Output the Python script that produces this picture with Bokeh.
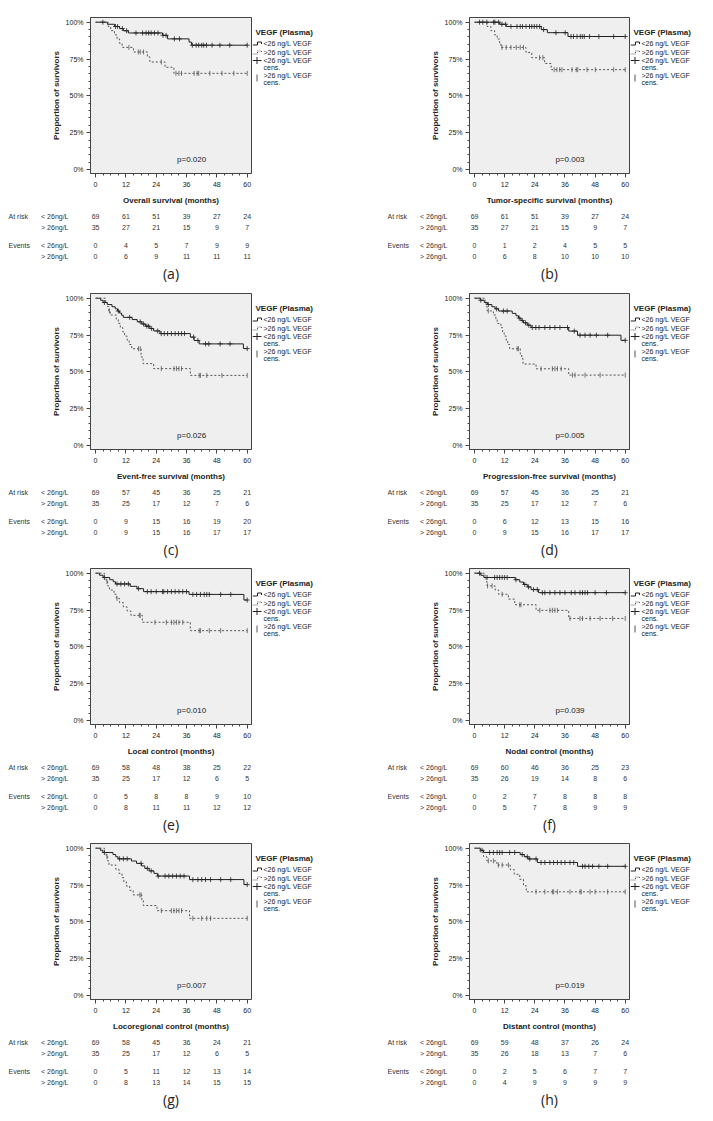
import numpy as np
from bokeh.plotting import figure
from bokeh.models import (Range1d, FixedTicker, NumeralTickFormatter, Label, ColumnDataSource)
from bokeh.layouts import column, row
from bokeh.core.properties import value
from bokeh.embed import file_html
from bokeh.resources import INLINE

MONTHS = [0, 12, 24, 36, 48, 60]
GROUPS = ["< 26ng/L", "> 26ng/L"]
ROW_NAMES = ["At risk", "Events"]
LEGEND_TITLE = "VEGF (Plasma)"
LEGEND_LABELS = ["<26 ng/L VEGF", ">26 ng/L VEGF", "<26 ng/L VEGF", "cens.", ">26 ng/L VEGF", "cens."]

# ---------------- (a) Overall survival ----------------
a_title = "Overall survival (months)"
a_p = "p=0.020"
a_low_t = [4.7, 7.5, 9.5, 11, 13, 26.5, 28.5, 37, 38]
a_low_s = [98.6, 97.1, 95.7, 94.2, 92.7, 91.1, 88.7, 86.5, 84.4]
a_low_c = [2.9, 7.9, 8.7, 10.6, 12.3, 16, 18.6, 20, 21, 22, 23.3, 24.7, 26.7, 27.9, 31.2, 33.2,
           38.3, 39.8, 40.8, 42, 42.8, 43.9, 46.1, 49.2, 53.1, 60]
a_high_t = [5, 6, 7.5, 8.5, 9.5, 10.5, 15, 20.5, 21.5, 27.5, 31]
a_high_s = [97.1, 94.3, 91.4, 88.6, 85.7, 82.9, 79.8, 76.4, 73.0, 69.4, 65.3]
a_high_c = [13.2, 16.9, 17.7, 19, 26, 31.8, 33, 34, 39, 40.2, 40.8, 45.2, 50, 54.7, 60]
a_risk_low = [69, 61, 51, 39, 27, 24]
a_risk_high = [35, 27, 21, 15, 9, 7]
a_ev_low = [0, 4, 5, 7, 9, 9]
a_ev_high = [0, 6, 9, 11, 11, 11]

# ---------------- (b) Tumor-specific survival ----------------
b_title = "Tumor-specific survival (months)"
b_p = "p=0.003"
b_low_t = [10, 12.6, 26.6, 29, 37.2]
b_low_s = [98.6, 97.1, 95.0, 92.9, 90.3]
b_low_c = [2, 3.3, 4.9, 7.6, 8.1, 9.6, 10.9, 12.4, 14.5, 16.9, 18.2, 19.1, 20.5, 21.9, 22.8, 23.8,
           24.8, 25.9, 27.5, 32.4, 36.1, 38.4, 39.4, 40.8, 42.1, 42.9, 43.7, 45.8, 49.5, 55.4, 60]
b_high_t = [5, 6.5, 8, 9, 10, 10.5, 20.5, 22.8, 27.9, 30.5]
b_high_s = [97.1, 94.3, 91.4, 88.6, 85.7, 82.9, 79.4, 75.9, 72.0, 67.8]
b_high_c = [10.9, 12.6, 14.5, 16.6, 18.2, 19.5, 25.9, 27.2, 31.7, 32.8, 33.9, 34.8, 38.8, 40.5,
            41.1, 44.8, 48.1, 55.4, 60]
b_risk_low = [69, 61, 51, 39, 27, 24]
b_risk_high = [35, 27, 21, 15, 9, 7]
b_ev_low = [0, 1, 2, 4, 5, 5]
b_ev_high = [0, 6, 8, 10, 10, 10]

# ---------------- (c) Event-free survival ----------------
c_title = "Event-free survival (months)"
c_p = "p=0.026"
c_low_t = [2, 3, 4.7, 6.5, 7.8, 8.7, 9.5, 10.3, 11, 14.5, 16.5, 18.3, 19.7, 21.5, 23, 25.5,
           37.5, 39, 41, 58.5]
c_low_s = [98.6, 97.1, 95.7, 94.2, 92.8, 91.3, 89.9, 88.4, 87.0, 85.5, 84.0, 82.5, 81.0, 79.4,
           77.8, 76.0, 73.6, 71.3, 69.0, 65.8]
c_low_c = [3.5, 9, 13.5, 17.7, 19, 20.3, 21, 22.2, 24.6, 26, 27.2, 28.5, 30, 31.5, 32.8, 34, 35.2,
           38.8, 40.5, 43.5, 44.8, 49.3, 53.2, 60]
c_high_t = [4, 4.6, 5.2, 5.8, 8.2, 9, 9.8, 10.8, 11.5, 12.5, 13.3, 14.3, 18, 18.8, 23, 37.5]
c_high_s = [97.1, 94.3, 91.4, 88.6, 85.7, 82.9, 80.0, 77.1, 74.3, 71.4, 68.6, 65.7, 60.1, 55.6,
            52.2, 47.6]
c_high_c = [5.5, 17, 17.7, 26, 31, 32, 33, 34, 41, 41.5, 44, 50, 60]
c_risk_low = [69, 57, 45, 36, 25, 21]
c_risk_high = [35, 25, 17, 12, 7, 6]
c_ev_low = [0, 9, 15, 16, 19, 20]
c_ev_high = [0, 9, 15, 16, 17, 17]

# ---------------- (d) Progression-free survival ----------------
d_title = "Progression-free survival (months)"
d_p = "p=0.005"
d_low_t = [2.3, 3.9, 5.2, 6.9, 8.2, 9.6, 15, 16.5, 17.5, 18.5, 19.5, 21, 22.5, 37.5, 41, 58.3]
d_low_s = [98.6, 97.1, 95.7, 94.2, 92.8, 91.3, 89.7, 88.1, 86.5, 84.9, 83.3, 81.7, 80.1, 77.7,
           74.9, 71.4]
d_low_c = [2.5, 5.5, 8.8, 11.5, 13, 17.8, 19, 20.3, 21.6, 23, 24.4, 25.7, 28, 30, 32, 34, 37,
           39.7, 42, 44, 46, 48.5, 53, 60]
d_high_t = [4.2, 4.6, 5, 7.5, 8.5, 9, 10.5, 11.2, 11.8, 12.6, 13.2, 14, 18.2, 18.8, 19.3, 24.5, 37.5]
d_high_s = [97.1, 94.3, 91.4, 88.6, 85.7, 82.9, 80.0, 77.1, 74.3, 71.4, 68.6, 65.7, 62.0, 59.0,
            55.3, 52.1, 47.8]
d_high_c = [5.5, 17, 17.5, 26.5, 31, 32, 33, 34.5, 39, 40, 44, 50, 60]
d_risk_low = [69, 57, 45, 36, 25, 21]
d_risk_high = [35, 25, 17, 12, 7, 6]
d_ev_low = [0, 6, 12, 13, 15, 16]
d_ev_high = [0, 9, 15, 16, 17, 17]

# ---------------- (e) Local control ----------------
e_title = "Local control (months)"
e_p = "p=0.010"
e_low_t = [1.6, 3, 5.6, 7, 7.9, 13.7, 16.4, 19, 37, 58.7]
e_low_s = [98.6, 97.1, 95.6, 94.2, 92.7, 91.1, 89.5, 87.5, 85.6, 81.8]
e_low_c = [3.5, 8.5, 10, 11.5, 13, 17, 20.5, 22, 24, 26.5, 27, 28.5, 30, 31.5, 33, 34.5, 36,
           38.5, 40, 41.5, 43, 44, 45, 49.5, 53.5, 60]
e_high_t = [3.5, 4.2, 4.8, 5.5, 7.3, 8.2, 9.5, 11, 12.5, 14, 18.5, 37.5]
e_high_s = [97.1, 94.3, 91.4, 88.6, 85.7, 82.9, 80.0, 77.1, 74.3, 71.4, 66.7, 61.0]
e_high_c = [4.5, 8.5, 17.3, 17.7, 23.5, 28, 30, 31, 32, 33, 34.5, 41, 41.5, 45, 49.5, 60]
e_risk_low = [69, 58, 48, 38, 25, 22]
e_risk_high = [35, 25, 17, 12, 6, 5]
e_ev_low = [0, 5, 8, 8, 9, 10]
e_ev_high = [0, 8, 11, 11, 12, 12]

# ---------------- (f) Nodal control ----------------
f_title = "Nodal control (months)"
f_p = "p=0.039"
f_low_t = [2.5, 3.7, 16.2, 18, 19.5, 21, 22.5, 25.5]
f_low_s = [98.6, 97.1, 95.6, 94.0, 92.4, 90.7, 88.9, 86.8]
f_low_c = [2, 5, 8, 9, 10, 11, 12, 13, 16.5, 20, 21.5, 23.5, 25, 27, 28, 30, 32, 34, 36, 38.5,
           40, 42, 43, 44, 45, 48, 52.5, 60]
f_high_t = [4.2, 4.6, 5, 8.2, 9.6, 13.5, 16, 24.5, 37.5]
f_high_s = [97.1, 94.3, 91.4, 88.6, 85.7, 82.4, 78.6, 74.8, 69.3]
f_high_c = [5.2, 7, 11, 18, 18.5, 26, 30, 31, 32, 33, 38, 42, 43, 46, 50, 55, 60]
f_risk_low = [69, 60, 46, 36, 25, 23]
f_risk_high = [35, 26, 19, 14, 8, 6]
f_ev_low = [0, 2, 7, 8, 8, 8]
f_ev_high = [0, 5, 7, 8, 9, 9]

# ---------------- (g) Locoregional control ----------------
g_title = "Locoregional control (months)"
g_p = "p=0.007"
g_low_t = [1.9, 2.9, 6.9, 8, 8.9, 14.2, 16.2, 18.2, 19.5, 21.2, 23.1, 24.5, 37.2, 58.7]
g_low_s = [98.6, 97.1, 95.7, 94.2, 92.8, 91.3, 89.7, 88.0, 86.3, 84.6, 82.9, 81.1, 78.7, 75.3]
g_low_c = [3.5, 9.5, 11, 12.5, 18, 20.5, 22, 24.8, 27.5, 29, 30.5, 32, 33.5, 35, 38.5, 40.5, 42,
           43.5, 45.5, 49.5, 53.5, 60]
g_high_t = [3.5, 4.2, 4.8, 5.3, 8, 9.3, 10.5, 11.2, 12.2, 13.5, 14.9, 18.3, 18.9, 24.3, 37.2]
g_high_s = [97.1, 94.3, 91.4, 88.6, 85.7, 82.9, 80.0, 77.1, 74.3, 71.4, 68.3, 64.7, 61.1, 57.6,
            52.4]
g_high_c = [4.5, 17.5, 18, 26, 30, 31, 32, 33, 34, 38.5, 42, 44, 45.5, 60]
g_risk_low = [69, 58, 45, 36, 24, 21]
g_risk_high = [35, 25, 17, 12, 6, 5]
g_ev_low = [0, 5, 11, 12, 13, 14]
g_ev_high = [0, 8, 13, 14, 15, 15]

# ---------------- (h) Distant control ----------------
h_title = "Distant control (months)"
h_p = "p=0.019"
h_low_t = [2.3, 3.6, 18.2, 19.8, 21.3, 25, 41]
h_low_s = [98.6, 97.1, 95.7, 94.2, 92.7, 90.3, 87.7]
h_low_c = [3, 6, 7.5, 9, 10, 11, 14, 16, 19, 21, 22, 24.5, 26.5, 28, 30, 31.5, 33, 34.5, 36, 38,
           39.5, 43, 44, 45.5, 47, 49.5, 53, 60]
h_high_t = [2.3, 3.6, 4.9, 8.9, 14.2, 15.8, 18, 19.5, 20.6]
h_high_s = [97.1, 94.3, 91.4, 88.6, 85.5, 82.3, 78.9, 74.6, 70.4]
h_high_c = [5.5, 7.5, 9.5, 11, 13.5, 24.5, 28, 31, 31.5, 33, 38, 42, 42.5, 46, 48, 53, 60]
h_risk_low = [69, 59, 48, 37, 26, 24]
h_risk_high = [35, 26, 18, 13, 7, 6]
h_ev_low = [0, 2, 5, 6, 7, 7]
h_ev_high = [0, 4, 9, 9, 9, 9]

PANELS = [
    ("(a)", a_title, a_p, a_low_t, a_low_s, a_low_c, a_high_t, a_high_s, a_high_c, a_risk_low, a_risk_high, a_ev_low, a_ev_high),
    ("(b)", b_title, b_p, b_low_t, b_low_s, b_low_c, b_high_t, b_high_s, b_high_c, b_risk_low, b_risk_high, b_ev_low, b_ev_high),
    ("(c)", c_title, c_p, c_low_t, c_low_s, c_low_c, c_high_t, c_high_s, c_high_c, c_risk_low, c_risk_high, c_ev_low, c_ev_high),
    ("(d)", d_title, d_p, d_low_t, d_low_s, d_low_c, d_high_t, d_high_s, d_high_c, d_risk_low, d_risk_high, d_ev_low, d_ev_high),
    ("(e)", e_title, e_p, e_low_t, e_low_s, e_low_c, e_high_t, e_high_s, e_high_c, e_risk_low, e_risk_high, e_ev_low, e_ev_high),
    ("(f)", f_title, f_p, f_low_t, f_low_s, f_low_c, f_high_t, f_high_s, f_high_c, f_risk_low, f_risk_high, f_ev_low, f_ev_high),
    ("(g)", g_title, g_p, g_low_t, g_low_s, g_low_c, g_high_t, g_high_s, g_high_c, g_risk_low, g_risk_high, g_ev_low, g_ev_high),
    ("(h)", h_title, h_p, h_low_t, h_low_s, h_low_c, h_high_t, h_high_s, h_high_c, h_risk_low, h_risk_high, h_ev_low, h_ev_high),
]

# ---------------- layout / style ----------------
FONT = "Liberation Sans"
TXT = "#222222"
SOLID = "#222222"
DOTTED = "#555555"
X0, X1 = -2.0, 61.7
Y0, Y1 = -0.027, 1.032
FH = 156
FW = [161, 160]
PANEL_W = [387, 318]
MB_LEFT = [90, 82]
MB_TOP = [17, 9, 9, 9]
MB_BOT = 36
ROW_H = [284, 275, 275, 275]


def step_xy(times, surv):
    x = [0.0] + list(times) + [60.0]
    y = [1.0] + [s / 100 for s in surv] + [surv[-1] / 100]
    return x, y


def surv_at(times, surv, cens):
    idx = np.searchsorted(np.array(times), np.array(cens), side="right")
    vals = [1.0] + [s / 100 for s in surv]
    return [vals[i] for i in idx]


def blank_figure(w, h, xr, yr):
    f = figure(width=w, height=h, frame_width=w, frame_height=h, min_border=0,
               x_range=xr, y_range=yr, x_axis_type=None, y_axis_type=None,
               output_backend="svg", toolbar_location=None,
               background_fill_color="white", border_fill_color="white",
               outline_line_color=None)
    f.xgrid.visible = False
    f.ygrid.visible = False
    return f


def km_figure(col, row_i, spec):
    (letter, title, pval, lt, ls, lc, ht, hs, hc, rl, rh, el, eh) = spec
    fw = FW[col]
    p = figure(width=MB_LEFT[col] + fw + 1, height=MB_TOP[row_i] + FH + MB_BOT,
               frame_width=fw, frame_height=FH, min_border_left=MB_LEFT[col],
               min_border_right=1, min_border_top=MB_TOP[row_i], min_border_bottom=MB_BOT,
               x_range=Range1d(X0, X1), y_range=Range1d(Y0, Y1),
               output_backend="svg", toolbar_location=None,
               background_fill_color="#efefef", border_fill_color="white",
               outline_line_color="#444444", outline_line_width=1)
    p.xgrid.visible = False
    p.ygrid.visible = False
    p.xaxis.ticker = FixedTicker(ticks=MONTHS, minor_ticks=list(range(0, 61, 3)))
    p.yaxis.ticker = FixedTicker(ticks=[0, 0.25, 0.5, 0.75, 1.0],
                                 minor_ticks=[i * 0.05 for i in range(21)])
    p.yaxis.formatter = NumeralTickFormatter(format="0%")
    p.xaxis.axis_label = title
    p.yaxis.axis_label = "Proportion of survivors"
    for ax in (p.xaxis[0], p.yaxis[0]):
        ax.axis_line_color = "#444444"
        ax.major_tick_line_color = "#444444"
        ax.minor_tick_line_color = "#444444"
        ax.major_tick_out = 4
        ax.major_tick_in = 0
        ax.minor_tick_out = 2
        ax.minor_tick_in = 0
        ax.major_label_text_font = FONT
        ax.major_label_text_font_size = "7px"
        ax.major_label_text_color = TXT
        ax.axis_label_text_font = FONT
        ax.axis_label_text_font_size = "8px"
        ax.axis_label_text_font_style = "bold"
        ax.axis_label_text_color = TXT
    p.xaxis.major_label_standoff = 4
    p.yaxis.major_label_standoff = 3
    p.xaxis.axis_label_standoff = 6
    p.yaxis.axis_label_standoff = 2

    lx, ly = step_xy(lt, ls)
    hx, hy = step_xy(ht, hs)
    p.step(lx, ly, mode="after", line_color=SOLID, line_width=1)
    p.step(hx, hy, mode="after", line_color=DOTTED, line_width=1, line_dash="2 2")
    p.scatter(lc, surv_at(lt, ls, lc), marker="cross", size=5, line_color=SOLID, line_width=0.8)
    p.scatter(hc, surv_at(ht, hs, hc), marker="dash", angle=np.pi / 2, size=5,
              line_color=DOTTED, line_width=0.8)
    p.add_layout(Label(x=38, y=0.07, text=pval, text_align="center", text_baseline="middle",
                       text_font=FONT, text_font_size="8px", text_color=TXT))
    return p


def legend_figure(col):
    # this strip sits level with the top of the neighbouring plot frame
    w = PANEL_W[col] - (MB_LEFT[col] + FW[col] + 1)
    h = FH + MB_BOT
    g = blank_figure(w, h, Range1d(0, w), Range1d(-h, 0))
    c1, c2, c3, c4 = 26, 35, 43, 58
    g.text(x=[3], y=[-15], text=[LEGEND_TITLE], text_font=value(FONT),
           text_font_size="8px", text_font_style="bold", text_color=TXT,
           text_align="left", text_baseline="middle")
    ys = [c1, c2, c3, c3 + 6.5, c4, c4 + 7]
    g.text(x=[11] * 6, y=[-v for v in ys], text=LEGEND_LABELS, text_font=value(FONT),
           text_font_size="7px", text_color=TXT, text_align="left", text_baseline="middle")
    g.line([0, 5, 5, 9, 9], [-(c1 + 1.5), -(c1 + 1.5), -(c1 - 1.5), -(c1 - 1.5), -(c1 + 0.5)],
           line_color=SOLID, line_width=1)
    g.line([0, 5, 5, 9, 9], [-(c2 + 1.5), -(c2 + 1.5), -(c2 - 1.5), -(c2 - 1.5), -(c2 + 0.5)],
           line_color=DOTTED, line_width=1, line_dash="1 1")
    g.segment(x0=[0, 4.5], y0=[-c3, -(c3 - 3.5)], x1=[9, 4.5], y1=[-c3, -(c3 + 3.5)],
              line_color=SOLID, line_width=1)
    g.segment(x0=[4.5], y0=[-(c4 - 1)], x1=[4.5], y1=[-(c4 + 6)],
              line_color=DOTTED, line_width=1)
    return g


def table_figure(col, row_i, spec):
    (letter, title, pval, lt, ls, lc, ht, hs, hc, rl, rh, el, eh) = spec
    fw = FW[col]
    width = PANEL_W[col]
    height = ROW_H[row_i] - (MB_TOP[row_i] + FH + MB_BOT)
    ppx = fw / (X1 - X0)
    xa = X0 - MB_LEFT[col] / ppx
    xb = xa + width / ppx
    t = blank_figure(width, height, Range1d(xa, xb), Range1d(-height, 0))

    def xoff(px):
        return X0 + px / ppx

    rows_y = [-7, -18, -36, -47]
    vals = [rl, rh, el, eh]
    xs, ys, ts = [], [], []
    for ry, vv in zip(rows_y, vals):
        for m, v in zip(MONTHS, vv):
            xs.append(m)
            ys.append(ry)
            ts.append(str(v))
    t.text(x="x", y="y", text="t", source=ColumnDataSource(dict(x=xs, y=ys, t=ts)),
           text_align="center", text_baseline="middle", text_font=value(FONT),
           text_font_size="7px", text_color="#333333")
    t.text(x=[xoff(-82)] * 2, y=[rows_y[0], rows_y[2]], text=ROW_NAMES,
           text_align="left", text_baseline="middle", text_font=value(FONT),
           text_font_size="7px", text_color="#333333")
    t.text(x=[xoff(-22)] * 4, y=rows_y, text=GROUPS * 2,
           text_align="right", text_baseline="middle", text_font=value(FONT),
           text_font_size="7px", text_color="#333333")
    t.text(x=[(X0 + X1) / 2], y=[-64], text=[letter],
           text_align="center", text_baseline="middle", text_font=value("Open Sans"),
           text_font_size="14px", text_color=TXT)
    return t


rows = []
for r in range(4):
    cols = []
    for c in range(2):
        spec = PANELS[2 * r + c]
        top = row(km_figure(c, r, spec), legend_figure(c), spacing=0)
        cols.append(column(top, table_figure(c, r, spec), spacing=0))
    rows.append(row(*cols, spacing=0))
layout = column(*rows, spacing=0)

open("out.html", "w").write(file_html(layout, INLINE))
